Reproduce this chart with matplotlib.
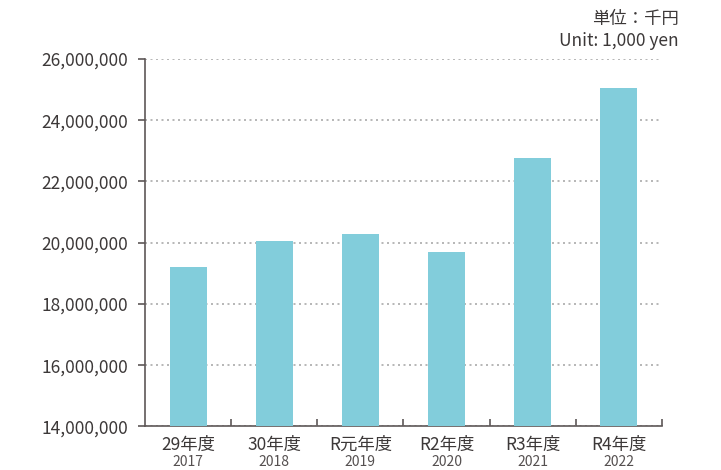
import matplotlib.pyplot as plt
from matplotlib.ticker import FuncFormatter

plt.rcParams['font.family'] = ['Noto Sans CJK JP', 'DejaVu Sans']

categories = ["29年度", "30年度", "R元年度", "R2年度", "R3年度", "R4年度"]
years = ["2017", "2018", "2019", "2020", "2021", "2022"]
values = [19200000, 20060000, 20280000, 19700000, 22760000, 25050000]

bar_color = "#82cddb"
text_color = "#3c3838"
spine_color = "#5e5757"

fig = plt.figure(figsize=(7.21, 4.70), dpi=100)
ax = fig.add_axes([0.2011, 0.0926, 0.7170, 0.7819])

x = list(range(len(categories)))
ax.bar(x, values, width=0.43, color=bar_color, zorder=3)

ax.set_xlim(-0.5, len(categories) - 0.5)
ax.set_ylim(14000000, 26000000)
ax.set_yticks(range(14000000, 26000001, 2000000))
ax.yaxis.set_major_formatter(FuncFormatter(lambda v, p: f"{int(v):,}"))
ax.tick_params(axis='y', labelsize=12.5, colors=spine_color, labelcolor=text_color,
               length=5, width=1.2, pad=7)

ax.set_xticks([i + 0.5 for i in x])
ax.set_xticklabels([])
ax.tick_params(axis='x', direction='in', length=5, width=1.2, colors=spine_color)

for i in x:
    ax.text(i, -0.050, categories[i], transform=ax.get_xaxis_transform(),
            ha='center', va='center', fontsize=12.5, color=text_color)
    ax.text(i, -0.098, years[i], transform=ax.get_xaxis_transform(),
            ha='center', va='center', fontsize=10, color="#555050")

# dotted grid, about 2px dots every 5.5px
ax.grid(axis='y', linestyle=(0, (1, 1.75)), color="#b8b8b8", linewidth=1.44, zorder=0)
ax.grid(axis='x', visible=False)

for side in ['top', 'right']:
    ax.spines[side].set_visible(False)
for side in ['left', 'bottom']:
    ax.spines[side].set_color(spine_color)
    ax.spines[side].set_linewidth(1.2)

fig.text(0.941, 0.960, "単位：千円", ha='right', va='center', fontsize=12.5, color=text_color)
fig.text(0.941, 0.913, "Unit: 1,000 yen", ha='right', va='center', fontsize=12.5, color=text_color)

fig.savefig("out.png", dpi=100)
